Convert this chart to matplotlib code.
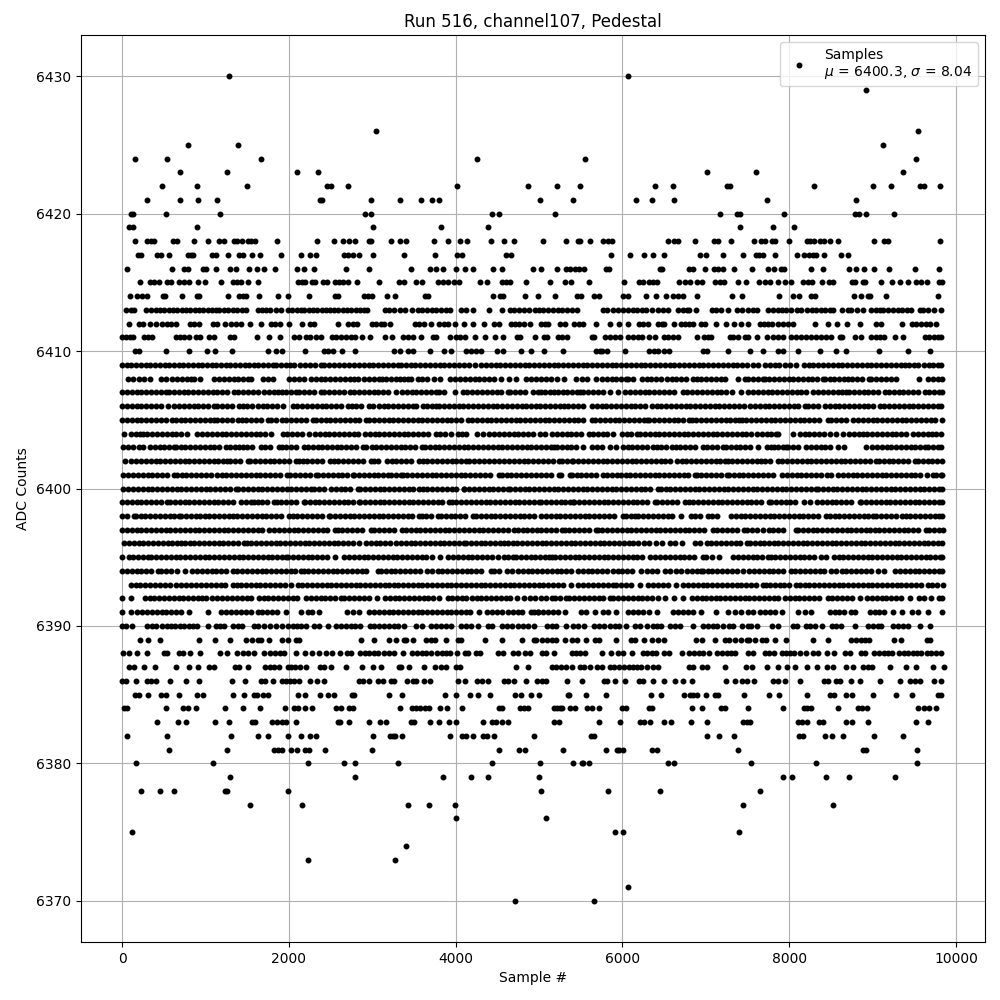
import matplotlib
matplotlib.use("Agg")
import matplotlib.pyplot as plt

# sample numbers, one list per ADC level
adc_6430 = [1284, 6072]
adc_6429 = [8920]
adc_6426 = [3048, 9543]
adc_6425 = [792, 1392, 9124]
adc_6424 = [156, 540, 1668, 4260, 5557, 9520]
adc_6423 = [696, 1260, 2100, 2352, 7017, 7604, 9364]
adc_6422 = [480, 900, 1500, 2460, 2504, 2712, 4020, 4872, 5210, 5486, 6395, 6610, 7257, 7290, 8298, 9004, 9220, 9571, 9611, 9806]
adc_6421 = [300, 696, 912, 1140, 2372, 2392, 2988, 3336, 3588, 3720, 3804, 5012, 5413, 6168, 6359, 6622, 7736, 8801]
adc_6420 = [104, 136, 528, 1176, 2916, 2980, 4440, 4524, 5186, 7165, 7377, 7408, 7939, 8789, 8837, 8920, 9256]
adc_6419 = [88, 128, 900, 3012, 3828, 4392, 7412, 7807, 8059]
adc_6418 = [156, 300, 348, 388, 608, 664, 864, 1032, 1160, 1224, 1344, 1376, 1440, 1512, 1544, 1592, 1860, 2340, 2544, 2652, 2724, 2796, 2964, 2984, 3228, 3336, 3408, 3744, 3912, 4056, 4140, 4428, 4584, 4704, 5042, 5329, 5473, 5493, 5617, 5761, 5832, 5876, 6551, 6622, 6670, 6874, 7101, 7141, 7305, 7580, 7660, 7708, 7796, 7835, 7999, 8215, 8254, 8294, 8370, 8418, 8490, 8586, 9016, 9136, 9184, 9806]
adc_6417 = [192, 224, 420, 472, 564, 792, 824, 856, 1080, 1128, 1272, 1404, 1444, 1560, 1656, 1908, 2148, 2256, 2328, 2664, 2712, 2772, 2844, 3012, 3384, 3756, 4020, 4080, 4608, 4668, 5868, 6096, 6263, 6371, 6503, 6934, 7005, 7209, 7448, 7604, 7636, 7688, 7831, 8095, 8178, 8238, 8286, 8326, 8418, 8621, 8705]
adc_6416 = [60, 600, 744, 792, 972, 1004, 1128, 1296, 1368, 1524, 1620, 1704, 1836, 2100, 2184, 2304, 2688, 2964, 3468, 3696, 3768, 3852, 4008, 4116, 4212, 4452, 4560, 4932, 5018, 5210, 5329, 5377, 5437, 5485, 5545, 5797, 5836, 6455, 6475, 6802, 6842, 6994, 7101, 7149, 7201, 7341, 7556, 7748, 7819, 7899, 7939, 8262, 8406, 8717, 8801, 8897, 9016, 9196, 9507, 9794]
adc_6415 = [216, 336, 384, 440, 544, 592, 684, 744, 808, 912, 1000, 1188, 1332, 1376, 1424, 1512, 1628, 2104, 2152, 2196, 2272, 2316, 2408, 2456, 2552, 2604, 2652, 2712, 2816, 3084, 3324, 3384, 3528, 3600, 3792, 3844, 3904, 3984, 4036, 4296, 4376, 4552, 4604, 4652, 4848, 5126, 5306, 5378, 5605, 6024, 6203, 6251, 6323, 6371, 6419, 6682, 6750, 6810, 6898, 6958, 7113, 7173, 7221, 7389, 7480, 7640, 7708, 7768, 7867, 7951, 8023, 8167, 8226, 8274, 8394, 8478, 8526, 8753, 8789, 8885, 8909, 9100, 9232, 9328, 9428, 9523, 9583, 9651, 9794, 9835]
adc_6414 = [96, 184, 240, 304, 492, 516, 720, 900, 920, 1272, 1404, 1452, 1484, 1644, 1872, 1992, 2244, 2552, 2592, 2904, 2952, 2992, 3180, 3276, 3636, 3672, 4452, 4536, 4564, 4836, 4985, 5186, 5461, 5509, 5653, 5713, 6012, 6072, 6287, 6407, 6527, 6610, 6670, 6730, 6898, 7317, 7436, 7879, 8047, 8119, 8262, 8310, 8777, 8861, 8945, 8965, 9160, 9783]
adc_6413 = [52, 104, 144, 288, 352, 404, 456, 508, 560, 612, 664, 716, 768, 820, 872, 924, 976, 1028, 1080, 1132, 1164, 1224, 1276, 1328, 1380, 1432, 1484, 1624, 1676, 1728, 1776, 1844, 1904, 1984, 2040, 2096, 2144, 2184, 2236, 2288, 2340, 2392, 2444, 2496, 2544, 2584, 2644, 2696, 2748, 2800, 2852, 2904, 2936, 3152, 3204, 3256, 3336, 3392, 3472, 3544, 3600, 3656, 3712, 3768, 3824, 3884, 3936, 4064, 4128, 4204, 4404, 4560, 4648, 4704, 4760, 4824, 4884, 4952, 5004, 5050, 5110, 5165, 5225, 5280, 5340, 5393, 5461, 5761, 5820, 5885, 5952, 6012, 6068, 6125, 6180, 6235, 6283, 6359, 6431, 6491, 6551, 6670, 6730, 6770, 6802, 6886, 7069, 7125, 7180, 7269, 7369, 7428, 7508, 7560, 7608, 7748, 7805, 7860, 7915, 7967, 8027, 8090, 8147, 8214, 8270, 8325, 8380, 8435, 8490, 8526, 8633, 8705, 8745, 8813, 8885, 8985, 9040, 9084, 9124, 9184, 9244, 9300, 9355, 9410, 9463, 9563, 9610, 9663, 9735, 9819]
adc_6412 = [84, 204, 252, 336, 408, 484, 544, 584, 648, 816, 864, 924, 1092, 1136, 1232, 1312, 1364, 1424, 1536, 1668, 1784, 1832, 1888, 2004, 2160, 2256, 2304, 2588, 2712, 2764, 2816, 3000, 3048, 3104, 3144, 3216, 3516, 3564, 3616, 3704, 3804, 3856, 3904, 3992, 4104, 4212, 4344, 4464, 4524, 4664, 4712, 4760, 4824, 4896, 5024, 5071, 5111, 5246, 5306, 5425, 5485, 5533, 5677, 5856, 5956, 6072, 6203, 6243, 6311, 6431, 6479, 6503, 6622, 6706, 6754, 6802, 6850, 6946, 6994, 7125, 7245, 7341, 7416, 7508, 7648, 7700, 7748, 7796, 7867, 7927, 7987, 8047, 8310, 8466, 8574, 8693, 8849, 9044, 9104, 9352, 9472, 9523, 9583, 9643, 9683, 9759]
adc_6411 = [0, 44, 96, 136, 264, 312, 364, 644, 692, 744, 808, 884, 936, 1044, 1104, 1296, 1344, 1620, 1764, 1896, 2064, 2124, 2204, 2256, 2324, 2384, 2512, 2564, 2624, 2684, 2744, 2796, 2880, 2976, 3156, 3240, 3368, 3424, 3484, 3588, 3724, 3764, 3936, 4004, 4052, 4116, 4236, 4352, 4476, 4572, 4736, 4772, 4950, 5062, 5094, 5230, 5278, 5337, 5637, 5661, 5793, 5852, 5912, 5972, 6072, 6132, 6192, 6239, 6323, 6391, 6503, 6551, 6610, 6670, 6890, 6982, 7021, 7057, 7289, 7321, 7389, 7468, 7508, 7608, 7736, 7807, 7867, 7927, 8023, 8087, 8147, 8206, 8258, 8326, 8378, 8438, 8506, 8605, 8637, 8789, 8861, 8981, 9036, 9084, 9140, 9268, 9364, 9623, 9675, 9731, 9783, 9826]
adc_6410 = [152, 208, 528, 804, 1024, 1116, 1320, 1752, 1848, 1920, 2196, 2424, 2472, 2532, 2640, 2796, 3264, 3336, 3432, 3484, 3696, 3864, 3948, 4124, 4184, 4244, 4304, 4500, 4572, 4788, 4900, 5054, 5282, 5677, 5725, 5749, 5820, 6036, 6323, 6379, 6431, 6503, 6563, 6970, 7009, 7269, 7532, 7688, 7867, 7927, 8107, 8370, 8562, 8681, 9076, 9423, 9687]
adc_6409 = [0, 55, 112, 170, 226, 284, 340, 398, 452, 510, 566, 622, 680, 735, 792, 848, 905, 960, 1018, 1074, 1130, 1188, 1244, 1300, 1356, 1414, 1470, 1526, 1582, 1624, 1684, 1745, 1804, 1844, 1900, 1960, 2015, 2064, 2136, 2195, 2250, 2310, 2384, 2424, 2484, 2540, 2600, 2664, 2724, 2782, 2840, 2898, 2955, 3012, 3070, 3128, 3185, 3244, 3304, 3344, 3402, 3460, 3518, 3576, 3634, 3692, 3750, 3808, 3866, 3924, 3982, 4040, 4098, 4156, 4232, 4304, 4362, 4420, 4478, 4536, 4594, 4652, 4710, 4768, 4826, 4884, 4942, 5000, 5058, 5116, 5174, 5232, 5290, 5348, 5406, 5464, 5522, 5580, 5638, 5696, 5754, 5812, 5870, 5928, 5986, 6044, 6102, 6160, 6218, 6276, 6334, 6392, 6450, 6508, 6566, 6624, 6682, 6740, 6798, 6856, 6914, 6972, 7030, 7088, 7146, 7204, 7262, 7320, 7378, 7436, 7494, 7568, 7620, 7708, 7765, 7824, 7882, 7947, 8007, 8087, 8175, 8232, 8290, 8348, 8406, 8464, 8522, 8580, 8638, 8696, 8754, 8812, 8870, 8928, 8986, 9044, 9102, 9160, 9218, 9276, 9344, 9384, 9440, 9498, 9543, 9615, 9672, 9730, 9788, 9822]
adc_6408 = [72, 136, 204, 264, 336, 464, 524, 604, 662, 720, 778, 830, 864, 936, 1104, 1162, 1220, 1278, 1336, 1394, 1452, 1510, 1544, 1684, 1744, 1812, 2004, 2062, 2120, 2176, 2264, 2322, 2380, 2438, 2496, 2554, 2612, 2670, 2728, 2784, 2832, 2904, 2962, 3020, 3078, 3112, 3164, 3222, 3280, 3338, 3384, 3424, 3464, 3544, 3602, 3660, 3736, 3816, 3936, 3994, 4052, 4110, 4168, 4226, 4284, 4342, 4400, 4458, 4544, 4644, 4724, 4844, 4902, 4960, 5024, 5082, 5140, 5214, 5294, 5445, 5513, 5581, 5677, 5753, 5811, 5869, 5927, 5985, 6043, 6072, 6132, 6231, 6289, 6347, 6405, 6463, 6531, 6590, 6648, 6706, 6764, 6850, 6890, 6948, 7006, 7064, 7122, 7180, 7229, 7389, 7468, 7508, 7566, 7624, 7682, 7708, 7760, 7818, 7876, 7934, 7992, 8047, 8105, 8163, 8221, 8279, 8337, 8406, 8426, 8484, 8542, 8600, 8658, 8705, 8757, 8815, 8873, 8957, 8985, 9043, 9101, 9159, 9217, 9284, 9555, 9663, 9721, 9779, 9835]
adc_6407 = [0, 58, 116, 174, 232, 290, 348, 406, 464, 524, 564, 622, 680, 738, 796, 854, 912, 970, 1028, 1086, 1144, 1202, 1260, 1336, 1392, 1450, 1508, 1566, 1624, 1704, 1764, 1822, 1864, 1912, 1970, 2028, 2084, 2124, 2182, 2240, 2298, 2384, 2424, 2482, 2540, 2598, 2656, 2736, 2784, 2842, 2900, 2958, 3016, 3074, 3132, 3190, 3284, 3356, 3414, 3472, 3530, 3584, 3644, 3702, 3760, 3804, 3864, 3992, 4084, 4142, 4200, 4258, 4316, 4374, 4432, 4490, 4548, 4624, 4656, 4714, 4772, 4830, 4924, 4984, 5024, 5074, 5133, 5174, 5232, 5286, 5334, 5392, 5450, 5493, 5533, 5591, 5649, 5707, 5765, 5852, 5952, 6032, 6092, 6150, 6208, 6266, 6324, 6382, 6440, 6498, 6556, 6618, 6722, 6780, 6838, 6896, 6954, 7012, 7070, 7128, 7186, 7244, 7309, 7420, 7508, 7566, 7624, 7682, 7740, 7798, 7856, 7914, 7972, 8030, 8088, 8146, 8204, 8286, 8346, 8406, 8464, 8522, 8580, 8638, 8685, 8717, 8775, 8833, 8891, 8949, 9007, 9065, 9144, 9196, 9254, 9312, 9370, 9428, 9486, 9543, 9623, 9681, 9739, 9797, 9835]
adc_6406 = [0, 58, 116, 174, 232, 290, 348, 404, 464, 552, 624, 684, 742, 800, 858, 916, 974, 1032, 1104, 1144, 1202, 1260, 1318, 1404, 1444, 1502, 1560, 1624, 1684, 1742, 1800, 1858, 1924, 2044, 2102, 2160, 2218, 2276, 2334, 2392, 2450, 2508, 2566, 2624, 2704, 2752, 2810, 2868, 2964, 3004, 3084, 3136, 3194, 3252, 3310, 3368, 3426, 3484, 3524, 3604, 3662, 3720, 3764, 3804, 3862, 3920, 3978, 4036, 4094, 4152, 4210, 4268, 4324, 4384, 4442, 4500, 4558, 4616, 4674, 4732, 4790, 4848, 4906, 4964, 5015, 5074, 5132, 5190, 5254, 5294, 5352, 5410, 5468, 5533, 5633, 5691, 5749, 5807, 5865, 5923, 5981, 6039, 6097, 6155, 6213, 6271, 6351, 6409, 6467, 6525, 6583, 6641, 6699, 6757, 6815, 6873, 6931, 6989, 7047, 7105, 7163, 7221, 7279, 7337, 7395, 7453, 7528, 7588, 7646, 7704, 7762, 7820, 7878, 7936, 7994, 8052, 8110, 8186, 8226, 8284, 8342, 8426, 8486, 8544, 8602, 8660, 8718, 8776, 8834, 8892, 8950, 9004, 9084, 9142, 9200, 9258, 9316, 9374, 9432, 9490, 9548, 9606, 9664, 9722, 9780, 9822]
adc_6405 = [0, 58, 116, 174, 232, 290, 348, 406, 464, 522, 604, 644, 702, 760, 818, 876, 934, 992, 1050, 1104, 1144, 1202, 1260, 1318, 1384, 1432, 1490, 1548, 1606, 1664, 1744, 1784, 1844, 1912, 1970, 2028, 2086, 2144, 2202, 2284, 2324, 2382, 2440, 2498, 2556, 2614, 2672, 2730, 2788, 2846, 2924, 2964, 3022, 3080, 3138, 3196, 3254, 3312, 3370, 3428, 3486, 3544, 3602, 3660, 3718, 3776, 3834, 3892, 3950, 4008, 4066, 4144, 4196, 4254, 4312, 4370, 4428, 4486, 4544, 4602, 4660, 4718, 4776, 4834, 4892, 4950, 5008, 5066, 5124, 5182, 5240, 5298, 5356, 5414, 5472, 5530, 5633, 5673, 5731, 5789, 5847, 5905, 5963, 6021, 6079, 6137, 6195, 6253, 6299, 6323, 6381, 6439, 6497, 6555, 6613, 6671, 6729, 6802, 6830, 6888, 6946, 7004, 7062, 7120, 7178, 7236, 7294, 7352, 7400, 7428, 7486, 7544, 7602, 7660, 7718, 7776, 7834, 7892, 7950, 8008, 8066, 8124, 8182, 8240, 8298, 8356, 8466, 8506, 8564, 8622, 8680, 8765, 8825, 8883, 8941, 8999, 9057, 9115, 9173, 9231, 9289, 9347, 9405, 9463, 9521, 9579, 9637, 9695, 9753, 9835]
adc_6404 = [24, 104, 162, 220, 256, 304, 362, 420, 478, 536, 594, 652, 710, 784, 904, 962, 1020, 1078, 1136, 1194, 1252, 1310, 1368, 1426, 1484, 1542, 1600, 1658, 1716, 1784, 1924, 1982, 2040, 2098, 2156, 2244, 2312, 2370, 2428, 2486, 2544, 2602, 2660, 2718, 2776, 2832, 2912, 2970, 3028, 3086, 3144, 3202, 3260, 3318, 3376, 3434, 3492, 3550, 3608, 3666, 3764, 3816, 3874, 3944, 4024, 4082, 4128, 4256, 4324, 4404, 4462, 4520, 4578, 4636, 4694, 4752, 4810, 4868, 4926, 5015, 5074, 5154, 5214, 5272, 5330, 5388, 5446, 5504, 5605, 5645, 5703, 5761, 5819, 5892, 5992, 6050, 6108, 6172, 6211, 6269, 6327, 6385, 6443, 6501, 6559, 6617, 6675, 6733, 6791, 6849, 6907, 6965, 7023, 7081, 7139, 7197, 7255, 7313, 7371, 7429, 7487, 7545, 7608, 7668, 7728, 7786, 7844, 7867, 8047, 8127, 8185, 8243, 8301, 8359, 8417, 8486, 8558, 8645, 8717, 8775, 8833, 8885, 8937, 8995, 9053, 9111, 9169, 9227, 9285, 9343, 9401, 9483, 9543, 9601, 9659, 9717, 9763, 9823]
adc_6403 = [16, 74, 132, 204, 256, 336, 392, 450, 508, 566, 624, 644, 702, 760, 818, 876, 934, 992, 1050, 1108, 1166, 1244, 1296, 1354, 1404, 1444, 1502, 1560, 1664, 1712, 1770, 1884, 1912, 1970, 2028, 2086, 2184, 2232, 2290, 2348, 2392, 2456, 2514, 2572, 2630, 2688, 2746, 2804, 2884, 2924, 2992, 3050, 3108, 3166, 3224, 3282, 3340, 3398, 3456, 3514, 3592, 3632, 3690, 3748, 3806, 3864, 3922, 3980, 4038, 4096, 4154, 4212, 4270, 4328, 4386, 4444, 4502, 4560, 4618, 4676, 4734, 4792, 4850, 4908, 4966, 5024, 5082, 5140, 5174, 5214, 5272, 5330, 5388, 5446, 5525, 5633, 5691, 5749, 5852, 5924, 6004, 6062, 6120, 6178, 6236, 6294, 6371, 6411, 6459, 6517, 6590, 6638, 6696, 6754, 6812, 6870, 6970, 7017, 7075, 7133, 7209, 7241, 7299, 7357, 7415, 7473, 7531, 7628, 7728, 7786, 7819, 7867, 7925, 7967, 7991, 8049, 8107, 8198, 8266, 8324, 8386, 8426, 8484, 8585, 8657, 8917, 8997, 9052, 9110, 9168, 9226, 9284, 9342, 9400, 9458, 9503, 9571, 9629, 9663, 9723, 9781, 9823]
adc_6402 = [32, 112, 170, 228, 286, 344, 402, 460, 518, 576, 634, 692, 750, 808, 866, 924, 982, 1040, 1098, 1156, 1214, 1264, 1296, 1354, 1412, 1504, 1536, 1594, 1652, 1710, 1768, 1826, 1884, 1942, 2000, 2084, 2124, 2164, 2222, 2280, 2338, 2396, 2496, 2536, 2594, 2652, 2710, 2768, 2826, 2884, 2984, 3016, 3074, 3176, 3232, 3290, 3348, 3406, 3464, 3564, 3604, 3662, 3720, 3778, 3836, 3894, 3952, 4010, 4068, 4124, 4164, 4222, 4280, 4338, 4404, 4464, 4524, 4582, 4640, 4698, 4756, 4814, 4872, 4930, 4988, 5046, 5104, 5162, 5234, 5274, 5332, 5394, 5413, 5471, 5529, 5587, 5645, 5703, 5761, 5819, 5877, 5935, 5993, 6051, 6109, 6167, 6225, 6283, 6341, 6399, 6457, 6515, 6573, 6650, 6710, 6768, 6826, 6884, 6942, 7000, 7058, 7116, 7174, 7229, 7269, 7317, 7375, 7433, 7491, 7549, 7608, 7656, 7714, 7772, 7867, 7919, 7977, 8035, 8093, 8151, 8209, 8267, 8325, 8383, 8441, 8499, 8557, 8615, 8673, 8731, 8789, 8847, 8905, 8963, 9044, 9076, 9134, 9192, 9250, 9308, 9366, 9424, 9503, 9543, 9601, 9659, 9717, 9775, 9835]
adc_6401 = [16, 74, 132, 190, 248, 306, 364, 422, 480, 538, 624, 656, 714, 772, 830, 888, 946, 1004, 1072, 1136, 1194, 1252, 1310, 1368, 1426, 1484, 1542, 1600, 1658, 1716, 1774, 1832, 1890, 1976, 2016, 2074, 2132, 2190, 2248, 2324, 2352, 2410, 2468, 2526, 2584, 2642, 2700, 2764, 2784, 2842, 2900, 2958, 3016, 3074, 3132, 3192, 3224, 3282, 3344, 3364, 3422, 3480, 3538, 3596, 3654, 3712, 3770, 3828, 3886, 3944, 4002, 4060, 4118, 4176, 4234, 4292, 4350, 4408, 4524, 4552, 4610, 4668, 4726, 4784, 4842, 4900, 4958, 5024, 5082, 5140, 5234, 5262, 5366, 5393, 5451, 5509, 5567, 5625, 5683, 5772, 5820, 5878, 5940, 5980, 6038, 6096, 6154, 6212, 6270, 6328, 6386, 6444, 6502, 6560, 6618, 6676, 6734, 6792, 6870, 6890, 6948, 7006, 7064, 7122, 7180, 7249, 7277, 7335, 7393, 7451, 7509, 7567, 7625, 7683, 7741, 7800, 7915, 7973, 8031, 8089, 8147, 8205, 8263, 8321, 8379, 8454, 8506, 8585, 8643, 8701, 8759, 8817, 8875, 8933, 8991, 9049, 9107, 9165, 9223, 9281, 9339, 9397, 9455, 9513, 9571, 9651, 9723, 9763, 9821, 9835]
adc_6400 = [16, 74, 132, 190, 248, 306, 364, 422, 480, 538, 596, 654, 712, 770, 828, 886, 944, 1002, 1060, 1118, 1176, 1234, 1292, 1364, 1392, 1450, 1508, 1566, 1624, 1682, 1740, 1798, 1856, 1914, 1972, 2030, 2088, 2146, 2204, 2264, 2304, 2362, 2424, 2504, 2562, 2620, 2678, 2736, 2824, 2856, 2914, 2972, 3030, 3088, 3146, 3204, 3262, 3320, 3378, 3436, 3494, 3564, 3604, 3662, 3720, 3778, 3836, 3894, 3952, 4010, 4096, 4104, 4162, 4220, 4278, 4336, 4394, 4452, 4510, 4568, 4624, 4652, 4710, 4768, 4826, 4884, 4942, 5000, 5058, 5116, 5174, 5232, 5290, 5348, 5406, 5464, 5522, 5580, 5638, 5696, 5754, 5812, 5870, 5928, 5986, 6044, 6102, 6160, 6218, 6276, 6334, 6431, 6459, 6517, 6575, 6633, 6691, 6749, 6807, 6865, 6923, 6981, 7039, 7097, 7155, 7213, 7271, 7329, 7387, 7445, 7503, 7561, 7619, 7677, 7735, 7793, 7851, 7909, 7967, 8025, 8083, 8141, 8199, 8257, 8326, 8346, 8404, 8462, 8520, 8578, 8636, 8694, 8752, 8810, 8868, 8926, 8984, 9042, 9100, 9158, 9216, 9274, 9332, 9390, 9448, 9506, 9564, 9622, 9680, 9738, 9796, 9835]
adc_6399 = [0, 58, 116, 174, 232, 290, 348, 406, 464, 536, 576, 634, 692, 750, 808, 866, 924, 982, 1040, 1098, 1156, 1214, 1272, 1330, 1424, 1484, 1542, 1584, 1624, 1682, 1740, 1816, 1852, 1910, 1968, 2026, 2084, 2176, 2192, 2250, 2308, 2366, 2424, 2482, 2540, 2598, 2656, 2714, 2772, 2844, 2856, 2914, 2972, 3030, 3088, 3146, 3204, 3262, 3320, 3378, 3436, 3494, 3552, 3610, 3668, 3726, 3784, 3842, 3924, 3952, 4010, 4068, 4126, 4184, 4242, 4300, 4358, 4416, 4474, 4532, 4590, 4648, 4706, 4764, 4822, 4880, 4938, 5004, 5027, 5085, 5143, 5201, 5259, 5317, 5375, 5413, 5425, 5483, 5541, 5599, 5657, 5715, 5773, 5831, 5889, 5947, 6005, 6063, 6121, 6179, 6237, 6295, 6391, 6419, 6477, 6535, 6593, 6651, 6750, 6802, 6850, 6908, 6966, 7024, 7082, 7140, 7198, 7256, 7314, 7372, 7430, 7488, 7546, 7604, 7662, 7759, 7783, 7841, 7899, 7957, 8015, 8073, 8174, 8254, 8334, 8392, 8450, 8508, 8566, 8624, 8682, 8740, 8845, 8865, 8923, 8981, 9039, 9097, 9155, 9213, 9271, 9329, 9387, 9445, 9503, 9561, 9619, 9677, 9735, 9793, 9835]
adc_6398 = [0, 58, 144, 164, 222, 280, 338, 396, 454, 512, 570, 628, 684, 712, 770, 828, 884, 936, 994, 1044, 1104, 1162, 1220, 1284, 1324, 1382, 1440, 1498, 1556, 1614, 1672, 1730, 1788, 1846, 1904, 2004, 2044, 2102, 2160, 2218, 2276, 2334, 2392, 2484, 2496, 2554, 2612, 2670, 2728, 2786, 2844, 2902, 2960, 3018, 3076, 3134, 3192, 3250, 3308, 3366, 3424, 3482, 3564, 3592, 3650, 3708, 3784, 3824, 3882, 3940, 3998, 4056, 4114, 4204, 4244, 4302, 4360, 4418, 4476, 4534, 4592, 4650, 4708, 4766, 4824, 4882, 4940, 5024, 5082, 5140, 5198, 5256, 5314, 5372, 5430, 5488, 5546, 5604, 5662, 5720, 5778, 5836, 5894, 6004, 6040, 6098, 6152, 6192, 6251, 6309, 6367, 6425, 6483, 6541, 6599, 6698, 6818, 6876, 6934, 7029, 7069, 7129, 7301, 7359, 7417, 7475, 7533, 7591, 7649, 7707, 7765, 7823, 7881, 7939, 7997, 8055, 8113, 8171, 8229, 8287, 8345, 8446, 8486, 8544, 8602, 8660, 8718, 8776, 8834, 8892, 8950, 9004, 9044, 9104, 9162, 9220, 9278, 9356, 9395, 9453, 9511, 9569, 9627, 9685, 9743, 9801, 9835]
adc_6397 = [0, 58, 116, 174, 232, 290, 348, 406, 464, 522, 580, 638, 696, 754, 812, 870, 928, 986, 1044, 1102, 1160, 1218, 1276, 1334, 1392, 1450, 1508, 1566, 1624, 1682, 1764, 1824, 1882, 1940, 1998, 2056, 2114, 2172, 2230, 2288, 2346, 2404, 2462, 2552, 2584, 2642, 2700, 2758, 2816, 2874, 2984, 3024, 3082, 3140, 3198, 3256, 3352, 3404, 3462, 3520, 3578, 3636, 3694, 3752, 3810, 3868, 3926, 3984, 4042, 4100, 4158, 4216, 4274, 4332, 4390, 4448, 4506, 4564, 4622, 4704, 4744, 4802, 4860, 4918, 4976, 5024, 5082, 5140, 5198, 5274, 5306, 5364, 5422, 5480, 5538, 5596, 5681, 5701, 5759, 5817, 5875, 5933, 5991, 6049, 6107, 6165, 6223, 6281, 6339, 6397, 6455, 6513, 6571, 6629, 6687, 6745, 6803, 6861, 6919, 6977, 7081, 7137, 7195, 7253, 7311, 7369, 7456, 7496, 7554, 7612, 7688, 7752, 7810, 7868, 7926, 8087, 8107, 8165, 8223, 8281, 8339, 8397, 8455, 8513, 8571, 8629, 8687, 8745, 8803, 8861, 8925, 8965, 9023, 9081, 9139, 9197, 9255, 9313, 9371, 9429, 9487, 9545, 9643, 9675, 9733, 9791, 9843]
adc_6396 = [24, 82, 140, 198, 256, 314, 372, 430, 488, 546, 604, 662, 704, 752, 810, 868, 926, 984, 1042, 1100, 1158, 1216, 1274, 1332, 1390, 1464, 1492, 1550, 1608, 1666, 1724, 1782, 1840, 1898, 1956, 2014, 2072, 2130, 2188, 2246, 2304, 2362, 2420, 2478, 2536, 2594, 2652, 2710, 2768, 2844, 2924, 2982, 3040, 3098, 3156, 3214, 3284, 3344, 3402, 3460, 3518, 3576, 3634, 3692, 3750, 3808, 3866, 3924, 3982, 4040, 4104, 4124, 4182, 4240, 4298, 4356, 4414, 4472, 4530, 4584, 4624, 4682, 4740, 4798, 4856, 4914, 4972, 5030, 5088, 5146, 5204, 5262, 5320, 5378, 5436, 5494, 5552, 5610, 5668, 5726, 5784, 5842, 5900, 5958, 6016, 6074, 6132, 6190, 6259, 6319, 6403, 6471, 6570, 6630, 6710, 6870, 6930, 7009, 7067, 7125, 7183, 7241, 7299, 7357, 7415, 7488, 7528, 7586, 7648, 7696, 7754, 7812, 7870, 7928, 7986, 8044, 8102, 8160, 8218, 8276, 8334, 8392, 8450, 8508, 8566, 8624, 8682, 8740, 8798, 8856, 8914, 8972, 9030, 9092, 9148, 9206, 9264, 9322, 9380, 9438, 9496, 9554, 9612, 9670, 9728, 9786, 9835]
adc_6395 = [0, 84, 136, 194, 252, 312, 352, 410, 468, 526, 584, 642, 700, 758, 816, 874, 932, 990, 1048, 1106, 1164, 1222, 1280, 1338, 1396, 1454, 1512, 1570, 1628, 1686, 1744, 1802, 1860, 1918, 1964, 1992, 2050, 2108, 2166, 2224, 2282, 2340, 2398, 2456, 2552, 2664, 2722, 2780, 2838, 2896, 2954, 3012, 3070, 3128, 3186, 3244, 3302, 3360, 3418, 3476, 3534, 3592, 3644, 3712, 3816, 3912, 3970, 4028, 4086, 4144, 4202, 4260, 4318, 4376, 4434, 4504, 4576, 4630, 4684, 4724, 4782, 4840, 4898, 4956, 5014, 5072, 5115, 5154, 5194, 5252, 5310, 5368, 5426, 5484, 5542, 5600, 5658, 5716, 5774, 5832, 5890, 5948, 6006, 6064, 6122, 6180, 6238, 6331, 6395, 6453, 6511, 6569, 6627, 6685, 6743, 6801, 6859, 6970, 7001, 7069, 7161, 7329, 7387, 7445, 7503, 7561, 7619, 7677, 7748, 7776, 7834, 7892, 7950, 8008, 8066, 8124, 8182, 8240, 8298, 8386, 8446, 8534, 8592, 8650, 8708, 8766, 8824, 8882, 8940, 8998, 9056, 9114, 9172, 9230, 9288, 9346, 9404, 9462, 9520, 9578, 9636, 9694, 9752, 9810, 9835]
adc_6394 = [0, 58, 116, 174, 232, 290, 348, 432, 472, 530, 588, 664, 752, 844, 902, 964, 1016, 1074, 1132, 1190, 1244, 1324, 1382, 1440, 1498, 1556, 1614, 1672, 1730, 1788, 1846, 1904, 1962, 2020, 2078, 2144, 2176, 2234, 2292, 2350, 2408, 2466, 2524, 2582, 2640, 2698, 2756, 2814, 2872, 2930, 3064, 3104, 3162, 3220, 3278, 3336, 3394, 3452, 3510, 3568, 3656, 3712, 3784, 3842, 3900, 3958, 4016, 4074, 4132, 4190, 4248, 4306, 4424, 4464, 4524, 4612, 4670, 4744, 4804, 4862, 4920, 4978, 5036, 5094, 5152, 5210, 5268, 5326, 5384, 5473, 5525, 5583, 5641, 5699, 5757, 5820, 5884, 5942, 6000, 6058, 6112, 6223, 6299, 6357, 6415, 6511, 6570, 6638, 6706, 6770, 6830, 6890, 6948, 6970, 7021, 7079, 7137, 7195, 7253, 7311, 7369, 7440, 7520, 7578, 7636, 7694, 7752, 7808, 7867, 7927, 8027, 8075, 8133, 8191, 8254, 8306, 8364, 8422, 8506, 8566, 8637, 8685, 8745, 8803, 8861, 8919, 8977, 9064, 9136, 9272, 9330, 9388, 9446, 9504, 9562, 9620, 9678, 9736, 9794, 9835]
adc_6393 = [104, 162, 220, 278, 336, 394, 452, 510, 576, 648, 712, 770, 828, 886, 944, 1002, 1072, 1124, 1182, 1240, 1324, 1376, 1424, 1484, 1542, 1600, 1658, 1716, 1774, 1832, 1890, 1948, 2024, 2104, 2162, 2220, 2278, 2336, 2394, 2452, 2510, 2568, 2626, 2684, 2742, 2800, 2858, 2916, 2974, 3032, 3090, 3148, 3206, 3264, 3312, 3370, 3428, 3486, 3544, 3602, 3660, 3718, 3776, 3834, 3892, 3950, 4008, 4066, 4124, 4182, 4240, 4298, 4356, 4414, 4472, 4530, 4588, 4646, 4704, 4762, 4820, 4878, 4936, 4994, 5052, 5110, 5168, 5226, 5286, 5382, 5473, 5531, 5589, 5647, 5705, 5763, 5821, 5892, 5924, 5982, 6040, 6104, 6211, 6311, 6371, 6431, 6489, 6547, 6642, 6730, 6788, 6846, 6904, 6962, 7020, 7078, 7136, 7194, 7252, 7310, 7368, 7426, 7484, 7542, 7600, 7688, 7716, 7774, 7832, 7887, 7935, 7993, 8087, 8127, 8185, 8243, 8301, 8359, 8417, 8475, 8533, 8591, 8649, 8707, 8765, 8823, 8881, 8939, 8997, 9055, 9113, 9171, 9229, 9287, 9345, 9403, 9461, 9519, 9577, 9663, 9715, 9773, 9843]
adc_6392 = [0, 104, 272, 330, 388, 446, 504, 562, 620, 678, 736, 794, 852, 910, 964, 1004, 1084, 1144, 1202, 1260, 1318, 1376, 1434, 1492, 1550, 1644, 1696, 1754, 1812, 1870, 1928, 1986, 2044, 2102, 2204, 2264, 2322, 2380, 2438, 2496, 2554, 2624, 2664, 2722, 2780, 2838, 2896, 2964, 3052, 3152, 3210, 3268, 3326, 3384, 3442, 3500, 3558, 3616, 3674, 3732, 3804, 3904, 3962, 4020, 4078, 4124, 4192, 4250, 4308, 4366, 4424, 4482, 4540, 4598, 4656, 4736, 4824, 4896, 4954, 5024, 5082, 5154, 5194, 5252, 5326, 5365, 5423, 5481, 5539, 5597, 5655, 5713, 5771, 5852, 5892, 5950, 6008, 6066, 6124, 6182, 6240, 6298, 6356, 6431, 6511, 6618, 6730, 6830, 6890, 6958, 7001, 7059, 7117, 7175, 7233, 7291, 7349, 7407, 7465, 7523, 7581, 7639, 7697, 7755, 7813, 7871, 7947, 8007, 8065, 8123, 8181, 8239, 8297, 8355, 8466, 8518, 8576, 8634, 8692, 8750, 8853, 8933, 8991, 9049, 9107, 9165, 9223, 9281, 9339, 9443, 9555, 9613, 9703, 9794, 9835]
adc_6391 = [0, 104, 184, 242, 300, 358, 416, 474, 532, 590, 648, 706, 804, 1032, 1192, 1250, 1308, 1366, 1424, 1482, 1544, 1624, 1682, 1740, 1798, 1856, 1964, 2144, 2224, 2282, 2364, 2696, 2764, 2844, 2964, 3022, 3080, 3138, 3196, 3254, 3312, 3370, 3428, 3486, 3544, 3602, 3660, 3718, 3776, 3834, 3892, 3950, 4008, 4066, 4124, 4176, 4284, 4376, 4434, 4492, 4550, 4624, 4684, 4742, 4800, 4904, 4984, 4935, 4993, 5051, 5109, 5167, 5225, 5314, 5501, 5559, 5673, 5772, 5830, 5924, 6072, 6130, 6188, 6251, 6323, 6419, 6610, 6668, 6726, 6784, 6842, 6938, 7121, 7269, 7349, 7416, 7508, 7560, 7648, 7708, 7766, 7824, 7919, 8107, 8186, 8262, 8486, 8544, 8602, 8660, 8745, 8785, 8965, 9023, 9081, 9139, 9244, 9356, 9475, 9543, 9663, 9831]
adc_6390 = [0, 48, 120, 300, 364, 408, 484, 536, 588, 640, 692, 744, 808, 856, 896, 1032, 1128, 1176, 1224, 1332, 1384, 1440, 1584, 1632, 1704, 1776, 1848, 1920, 1992, 2044, 2096, 2144, 2204, 2304, 2364, 2472, 2564, 2624, 2684, 2744, 2796, 2856, 2976, 3024, 3084, 3144, 3204, 3256, 3312, 3376, 3528, 3600, 3704, 3764, 3824, 3884, 3944, 4064, 4128, 4184, 4264, 4384, 4432, 4552, 4616, 4680, 4744, 4804, 4864, 4936, 5094, 5150, 5206, 5318, 5413, 5473, 5541, 5661, 5713, 5773, 5852, 5908, 5964, 6044, 6152, 6211, 6291, 6363, 6411, 6467, 6570, 6630, 6690, 6850, 6970, 7029, 7089, 7137, 7209, 7277, 7329, 7436, 7508, 7544, 7608, 7788, 7867, 8047, 8095, 8206, 8254, 8310, 8394, 8514, 8558, 8625, 8789, 8945, 9004, 9064, 9104, 9244, 9304, 9364, 9423, 9567, 9687]
adc_6389 = [216, 312, 456, 924, 1116, 1296, 1488, 1552, 1624, 1664, 1764, 1920, 1992, 2088, 2124, 2868, 3024, 3204, 3284, 3376, 3404, 3492, 3644, 3704, 3752, 3888, 4024, 4064, 4356, 4556, 4800, 4936, 4968, 5034, 5094, 5150, 5198, 5306, 5401, 5461, 5569, 5673, 5713, 5920, 6104, 6152, 6263, 6359, 6431, 6503, 6886, 6958, 7113, 7225, 7281, 7353, 7424, 7488, 7520, 7592, 7668, 7720, 7831, 7963, 8286, 8466, 8741, 8797, 8861, 8909, 8957, 9256, 9340, 9647, 9683]
adc_6388 = [16, 80, 176, 300, 504, 544, 684, 728, 816, 936, 1176, 1260, 1380, 1448, 1512, 1576, 1704, 1776, 1832, 1888, 1944, 2088, 2196, 2272, 2364, 2448, 2520, 2616, 2696, 2744, 2856, 2912, 2964, 3024, 3064, 3144, 3204, 3264, 3364, 3480, 3536, 3592, 3648, 3704, 3776, 3832, 3884, 3928, 4020, 4112, 4152, 4248, 4296, 4504, 4568, 4684, 4744, 4828, 4888, 5038, 5086, 5182, 5394, 5445, 5493, 5553, 5757, 5868, 5948, 6012, 6120, 6251, 6299, 6351, 6403, 6503, 6555, 6718, 6802, 6858, 6914, 6970, 7041, 7129, 7189, 7249, 7301, 7349, 7500, 7568, 7708, 7760, 7816, 7915, 7967, 8015, 8063, 8131, 8202, 8286, 8342, 8454, 8534, 8665, 8733, 8865, 8905, 9016, 9076, 9132, 9188, 9236, 9316, 9372, 9428, 9483, 9535, 9583, 9651, 9703, 9762, 9822]
adc_6387 = [84, 144, 264, 396, 648, 804, 912, 1044, 1104, 1356, 1404, 1504, 1716, 1776, 1824, 1876, 1984, 2024, 2076, 2136, 2208, 2376, 2424, 2500, 2688, 2880, 3012, 3108, 3324, 3344, 3444, 3624, 3756, 3824, 3884, 4004, 4056, 4728, 4872, 5150, 5206, 5262, 5318, 5390, 5493, 5541, 5613, 5693, 5757, 5852, 5900, 5960, 6020, 6080, 6132, 6180, 6227, 6299, 6371, 6427, 6802, 6850, 6958, 7017, 7233, 7484, 7548, 7732, 7867, 7975, 8071, 8214, 8334, 8454, 8526, 8677, 8765, 8885, 8941, 8997, 9208, 9399, 9519, 9727, 9855]
adc_6386 = [0, 48, 168, 300, 344, 408, 576, 768, 924, 1320, 1476, 1668, 1712, 1812, 1912, 1964, 2016, 2064, 2124, 2256, 2340, 2424, 2844, 2892, 2964, 3072, 3124, 3224, 3264, 3420, 3484, 3524, 3616, 3696, 4032, 4116, 4260, 4320, 4392, 4576, 4632, 4704, 4848, 4975, 5038, 5086, 5334, 5513, 5773, 5820, 5916, 6036, 6203, 6251, 6371, 6503, 6634, 6730, 6838, 7245, 7353, 7436, 7496, 7576, 7807, 7867, 7951, 8127, 8414, 8466, 8558, 8613, 8741, 8849, 9088, 9328, 9448, 9507, 9567, 9735, 9819]
adc_6385 = [156, 208, 312, 464, 524, 684, 900, 972, 1332, 1464, 1584, 1612, 1692, 1752, 2112, 2196, 2376, 2472, 2544, 2760, 2776, 3204, 3360, 3876, 4008, 4176, 4272, 4408, 4716, 4788, 4903, 5005, 5342, 5362, 5569, 5808, 6347, 6467, 6742, 6810, 6850, 6898, 7005, 7113, 7145, 7460, 7760, 7879, 8214, 8486, 8534, 8677, 8749, 9004, 9280, 9471, 9783, 9815]
adc_6384 = [24, 56, 528, 732, 792, 888, 1236, 1452, 1656, 1956, 2064, 2104, 2196, 2280, 2568, 2628, 2724, 2772, 3336, 3480, 3520, 3568, 3636, 3684, 3816, 3900, 4080, 4524, 4552, 4768, 4824, 4872, 5174, 5214, 5254, 5278, 5366, 5437, 5581, 5641, 5713, 5992, 6044, 6323, 6355, 6838, 6958, 7185, 7233, 7508, 7927, 8178, 8214, 8262, 8585, 8825, 8873, 8933, 9543, 9615, 9675, 9759]
adc_6383 = [420, 672, 768, 1116, 1284, 1560, 1592, 1800, 1860, 1920, 1960, 2088, 2588, 2616, 2724, 2964, 3096, 3168, 3468, 3504, 3696, 3804, 3924, 4008, 4332, 4432, 4484, 4560, 4632, 5174, 5238, 5713, 5976, 6215, 6259, 6335, 6503, 6587, 6826, 7017, 7448, 7488, 7528, 8107, 8155, 8214, 8358, 8406, 8681, 8753, 8945, 9519, 9663]
adc_6382 = [60, 540, 1308, 1632, 1752, 1992, 2148, 2256, 2328, 3012, 3216, 3248, 3276, 3360, 3936, 4080, 4128, 4212, 4324, 4376, 4464, 4940, 5625, 5653, 7017, 7161, 7341, 8119, 8167, 8430, 8514, 8645, 9016, 9364]
adc_6381 = [564, 1260, 1824, 1872, 1912, 2028, 2100, 2196, 2236, 2436, 3000, 4524, 4764, 4836, 5282, 5797, 5932, 5964, 6012, 6359, 6419, 7389, 8885, 8925, 9531]
adc_6380 = [168, 1092, 2232, 2664, 2796, 3312, 4440, 5016, 5413, 5517, 5533, 5605, 6551, 6622, 7544, 8322, 9531]
adc_6379 = [1296, 2796, 3852, 4188, 4392, 5000, 7927, 8035, 8442, 8717, 9268]
adc_6378 = [228, 456, 624, 1236, 1264, 1992, 5018, 5832, 6455, 7652]
adc_6377 = [1536, 2160, 3432, 3684, 3996, 7448, 8526]
adc_6376 = [4008, 5078]
adc_6375 = [120, 5916, 6012, 7400]
adc_6374 = [3408]
adc_6373 = [2232, 3276]
adc_6371 = [6072]
adc_6370 = [4716, 5653]

levels = [
    (6430, adc_6430), (6429, adc_6429), (6426, adc_6426), (6425, adc_6425), (6424, adc_6424),
    (6423, adc_6423), (6422, adc_6422), (6421, adc_6421), (6420, adc_6420), (6419, adc_6419),
    (6418, adc_6418), (6417, adc_6417), (6416, adc_6416), (6415, adc_6415), (6414, adc_6414),
    (6413, adc_6413), (6412, adc_6412), (6411, adc_6411), (6410, adc_6410), (6409, adc_6409),
    (6408, adc_6408), (6407, adc_6407), (6406, adc_6406), (6405, adc_6405), (6404, adc_6404),
    (6403, adc_6403), (6402, adc_6402), (6401, adc_6401), (6400, adc_6400), (6399, adc_6399),
    (6398, adc_6398), (6397, adc_6397), (6396, adc_6396), (6395, adc_6395), (6394, adc_6394),
    (6393, adc_6393), (6392, adc_6392), (6391, adc_6391), (6390, adc_6390), (6389, adc_6389),
    (6388, adc_6388), (6387, adc_6387), (6386, adc_6386), (6385, adc_6385), (6384, adc_6384),
    (6383, adc_6383), (6382, adc_6382), (6381, adc_6381), (6380, adc_6380), (6379, adc_6379),
    (6378, adc_6378), (6377, adc_6377), (6376, adc_6376), (6375, adc_6375), (6374, adc_6374),
    (6373, adc_6373), (6371, adc_6371), (6370, adc_6370),
]

samples = []
counts = []
for level, xs in levels:
    samples += xs
    counts += [level] * len(xs)

fig, ax = plt.subplots(figsize=(10, 10))
ax.plot(samples, counts, "k.", ms=6.5, label="Samples\n$\\mu$ = 6400.3, $\\sigma$ = 8.04")
ax.set_xlabel("Sample #")
ax.set_ylabel("ADC Counts")
ax.set_title("Run 516, channel107, Pedestal")
ax.ticklabel_format(useOffset=False, style="plain")
ax.grid(True)
ax.legend(loc="upper right")
fig.subplots_adjust(left=0.081, right=0.985, top=0.965, bottom=0.058)
plt.savefig("out.png", dpi=100)
